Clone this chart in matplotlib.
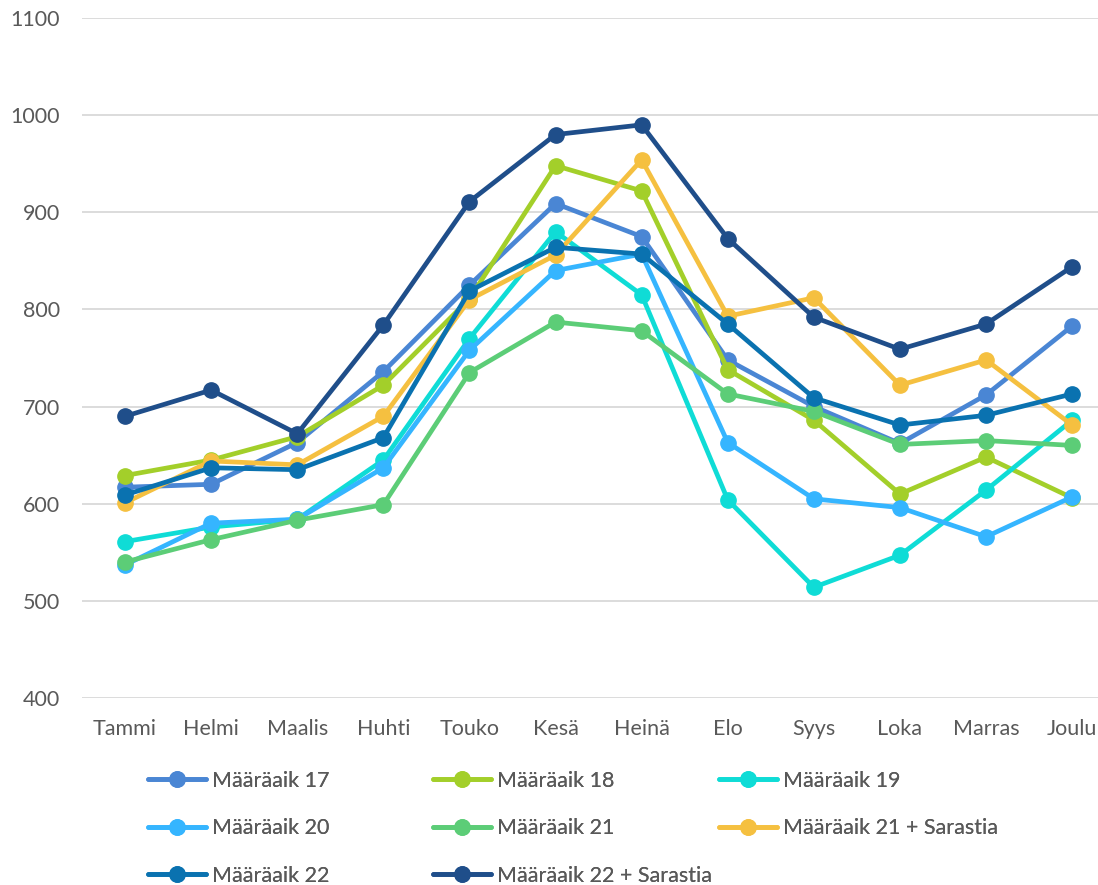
import matplotlib
matplotlib.use("Agg")
import matplotlib.pyplot as plt

months = ["Tammi", "Helmi", "Maalis", "Huhti", "Touko", "Kesä", "Heinä", "Elo", "Syys", "Loka", "Marras", "Joulu"]

m17 = [617, 620, 663, 736, 825, 909, 875, 748, 700, 662, 712, 783]
m18 = [629, 645, 669, 722, 811, 948, 922, 738, 686, 610, 648, 606]
m19 = [561, 576, 584, 645, 770, 880, 815, 604, 514, 547, 614, 686]
m20 = [537, 580, 584, 637, 758, 840, 857, 663, 605, 596, 566, 607]
m21 = [540, 563, 583, 599, 735, 787, 778, 713, 695, 661, 665, 660]
m21s = [601, 644, 640, 690, 810, 856, 954, 793, 812, 722, 748, 681]
m22 = [609, 637, 635, 668, 819, 864, 857, 785, 709, 681, 691, 713]
m22s = [690, 717, 672, 784, 911, 980, 990, 873, 792, 759, 785, 844]

series = [
    ("Määräaik 17", m17, "#4a86d4"),
    ("Määräaik 18", m18, "#a3cf2a"),
    ("Määräaik 19", m19, "#0fdcd6"),
    ("Määräaik 20", m20, "#35b5ff"),
    ("Määräaik 21", m21, "#5ccd77"),
    ("Määräaik 21 + Sarastia", m21s, "#f5c040"),
    ("Määräaik 22", m22, "#0a72b0"),
    ("Määräaik 22 + Sarastia", m22s, "#1f4e8a"),
]

plt.rcParams['font.family'] = ['Lato', 'DejaVu Sans']

fig = plt.figure(figsize=(10.98, 8.85), dpi=100)
ax = fig.add_axes([82/1098, 1-698/885, 1-82/1098, (698-18)/885])

x = list(range(len(months)))
handles = {}
for name, vals, col in series:
    h, = ax.plot(x, vals, color=col, lw=3.4, marker='o', markersize=11,
                 solid_joinstyle='round', solid_capstyle='round', label=name, zorder=3)
    handles[name] = h

ax.set_xlim(-0.5, 11.3)
ax.set_ylim(400, 1100)
ax.set_yticks(range(400, 1101, 100))
ax.set_xticks(x)
ax.set_xticklabels(months)
ax.grid(axis='y', color='#d9d9d9', lw=1.3, zorder=0)
ax.set_axisbelow(True)
for s in ax.spines.values():
    s.set_visible(False)
ax.tick_params(axis='both', length=0, colors='#595959', labelsize=15.5)
ax.tick_params(axis='y', pad=16)
ax.tick_params(axis='x', pad=15)

cols = [
    (["Määräaik 17", "Määräaik 20", "Määräaik 22"], 148),
    (["Määräaik 18", "Määräaik 21", "Määräaik 22 + Sarastia"], 433),
    (["Määräaik 19", "Määräaik 21 + Sarastia"], 719),
]
for names, px in cols:
    leg = fig.legend([handles[n] for n in names], names, loc='upper left',
                     bbox_to_anchor=(px/1098, 1-771/885), frameon=False,
                     borderpad=0, borderaxespad=0, handlelength=2.7,
                     handletextpad=0.25, labelspacing=1.27, fontsize=15.5,
                     labelcolor='#595959')
    fig.add_artist(leg)

fig.savefig("out.png", dpi=100)
